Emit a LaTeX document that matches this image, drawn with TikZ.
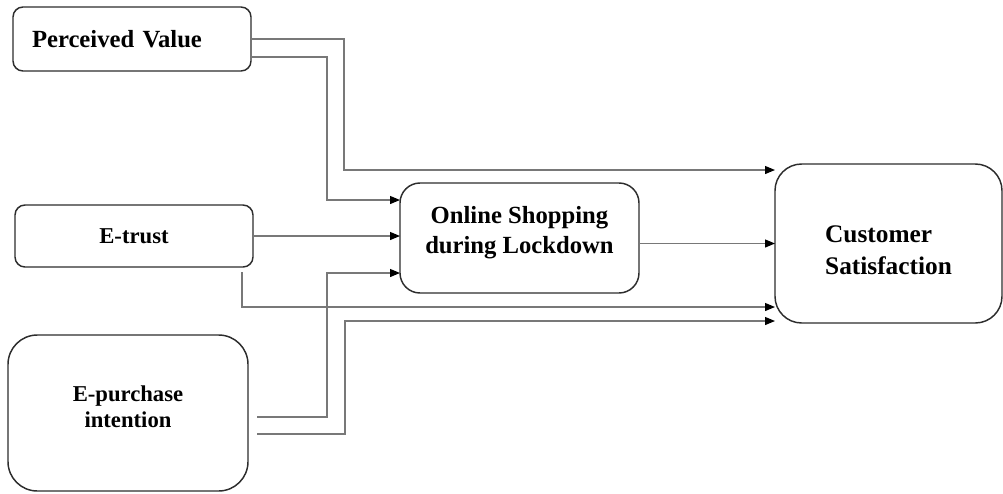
\documentclass[tikz,border=0pt]{standalone}
\usepackage{fontspec}
\setmainfont{Liberation Serif}
\usepackage{tikz}
\usetikzlibrary{arrows.meta, calc}
\definecolor{boxline}{RGB}{45,45,45}
\definecolor{wire}{RGB}{120,120,120}
\tikzset{
  factor/.style={
    rectangle, draw=boxline, line width=1.1pt, fill=white,
    inner sep=0pt, outer sep=0pt, font=\fontsize{18.5}{23}\selectfont\bfseries
  },
  smallfactor/.style={factor, font=\fontsize{17}{19.5}\selectfont\bfseries},
  link/.style={draw=wire, line width=0.9pt,
    -{Triangle[length=7.5pt, width=6pt, fill=black, color=black]}},
}

\begin{document}
\begin{tikzpicture}[x=0.75pt, y=-0.75pt]
  \useasboundingbox (0,0) rectangle (1003,493);

  % Factors
  \node[factor, rounded corners=7.5pt, minimum width=178.5pt, minimum height=48pt,
        text width=150pt, align=left] (pv) at (132,39) {Perceived Value};
  \node[smallfactor, rounded corners=7.5pt, minimum width=178.5pt, minimum height=46.5pt]
        (et) at (134,236) {E-trust};
  \node[smallfactor, rounded corners=22pt, minimum width=180pt, minimum height=117pt,
        align=center] (ep) at (128,413) {E-purchase\\intention\rule[-10pt]{0pt}{10pt}};

  % Mediator and outcome
  \node[factor, rounded corners=15pt, minimum width=179.25pt, minimum height=82.5pt,
        align=center] (os) at (519.5,238) {Online Shopping\\during Lockdown\rule[-12pt]{0pt}{12pt}};
  \node[factor, rounded corners=20pt, minimum width=170.25pt, minimum height=119.25pt,
        align=left, font=\fontsize{19}{24}\selectfont\bfseries]
        (cs) at (888.5,243.5) {\rule{0pt}{22pt}Customer\\Satisfaction};

  % Perceived Value
  \draw[link] (pv.east) -| (344,170) -- ($(cs.north west)+(0,6)$);
  \draw[link] ($(pv.south east)+(1,-14)$) -| (327,200) -- ($(os.north west)+(0,17)$);

  % E-trust
  \draw[link] (et.east) -- (os.west |- et.east);
  \draw[link] ($(et.south east)+(-11,5)$) |- ($(cs.south west)+(0,-16)$);

  % E-purchase intention
  \draw[link] ($(ep.east)+(9,4)$) -| (327,273) -- ($(os.south west)+(0,-20)$);
  \draw[link] ($(ep.east)+(9,21)$) -| (345,321) -- ($(cs.south west)+(0,-2)$);

  % Online Shopping
  \draw[link] (os.east |- cs.west) -- (cs.west);

\end{tikzpicture}
\end{document}
